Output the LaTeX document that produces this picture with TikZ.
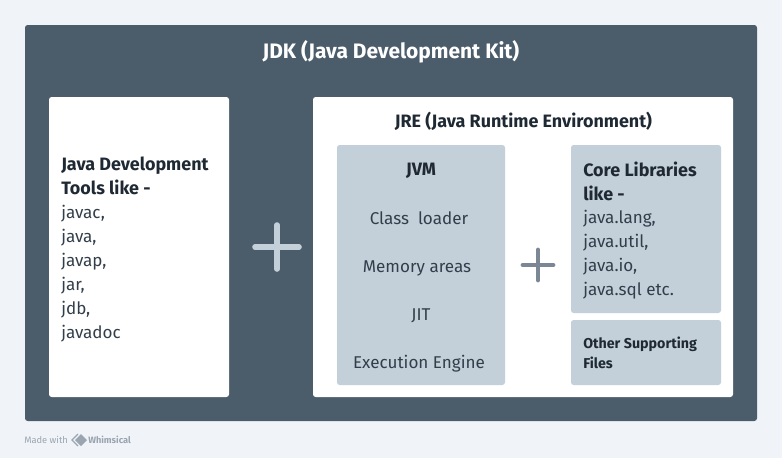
\documentclass[tikz,border=0pt]{standalone}
\usepackage{fontspec}
\setmainfont{Fira Sans}
\definecolor{pagebg}{HTML}{F0F4F8}
\definecolor{slate}{HTML}{4B5C6B}
\definecolor{panel}{HTML}{C3CFD9}
\definecolor{ink}{HTML}{1F2933}
\definecolor{inktwo}{HTML}{323F4B}
\definecolor{plusdark}{HTML}{7B8794}
\definecolor{markgrey}{HTML}{9AA5B1}
\tikzset{
 box/.style={rounded corners=2pt,inner sep=0pt},
 label/.style={inner sep=0pt,text=inktwo,font=\fontsize{12.8}{18}\selectfont},
 head/.style={inner sep=0pt,text=ink,font=\fontsize{13.45}{18}\selectfont\bfseries},
 plusbar/.style={line width=3.6pt,line cap=round},
}
\begin{document}
\begin{tikzpicture}[x=0.75pt,y=-0.75pt]
\useasboundingbox (0,0) rectangle (782,458);
\fill[pagebg] (0,0) rectangle (782,458);
\fill[box,slate] (25,25) rectangle (757,421);
\fill[box,white] (49,97) rectangle (229,397);
\fill[box,white] (313,97) rectangle (733,397);
\fill[box,panel] (337,145) rectangle (505,385);
\fill[box,panel] (571,145) rectangle (721,313);
\fill[box,panel] (571,320) rectangle (721,385);
\node[inner sep=0pt,text=white,anchor=base,font=\fontsize{15.7}{18}\selectfont\bfseries] (jdk) at (391,58.5) {JDK (Java Development Kit)};
\node[head,anchor=north west,align=left] (toolshead) at (61,157) {Java Development\\Tools like -};
\node[label,anchor=north west,align=left] (tools) at (61,204.5) {javac,\\java,\\javap,\\jar,\\jdb,\\javadoc};
\node[head,anchor=base] (jre) at (523.5,127.5) {JRE (Java Runtime Environment)};
\node[head,anchor=base] (jvm) at (421,175.5) {JVM};
\node[label,anchor=base] (cl) at (419,224) {Class\ \ loader};
\node[label,anchor=base] (mem) at (417,272) {Memory areas};
\node[label,anchor=base] (jit) at (421,320) {JIT};
\node[label,anchor=base] (exec) at (419,368) {Execution Engine};
\node[head,anchor=north west,align=left] (corehead) at (583,162) {Core Libraries\\like -};
\node[label,anchor=north west,align=left] (core) at (583,209.5) {java.lang,\\java.util,\\java.io,\\java.sql etc.};
\node[inner sep=0pt,text=ink,anchor=north west,align=left,font=\fontsize{10.7}{15}\selectfont\bfseries] (other) at (583,337) {Other Supporting\\Files};
\draw[plusbar,panel,line width=4.2pt] (255,247) -- (299,247);
\draw[plusbar,panel,line width=4.2pt] (277,225) -- (277,269);
\draw[plusbar,plusdark] (523,265) -- (553,265);
\draw[plusbar,plusdark] (538,250) -- (538,280);
\node[inner sep=0pt,text=markgrey,anchor=west,font=\fontsize{7}{8}\selectfont] (made) at (24,440) {Made with};
\draw[markgrey,line width=0.9pt] (78,434) -- (72,440) -- (78,446);
\fill[markgrey] (81,434) -- (87,440) -- (81,446) -- (75,440) -- cycle;
\node[inner sep=0pt,text=markgrey,anchor=west,font=\fontsize{6.9}{8}\selectfont\bfseries] (brand) at (88,440) {Whimsical};
\end{tikzpicture}
\end{document}
